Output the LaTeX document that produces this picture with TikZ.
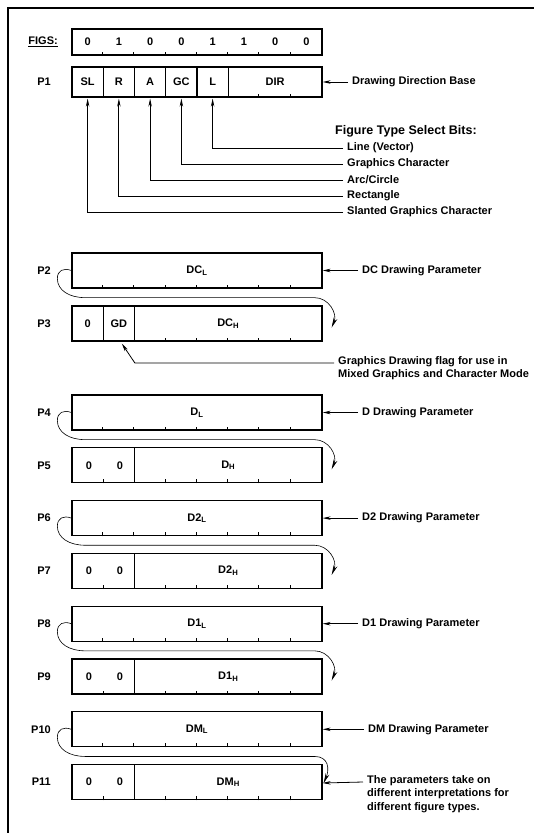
\documentclass[tikz,border=0pt]{standalone}
\usepackage{fontspec}
\setmainfont{Liberation Sans}
\usetikzlibrary{arrows.meta,calc}
\newcommand\highbox[3]{%
  \node[box, minimum width=250pt] (#1) at (197,#2) {#3};
  \foreach \k in {1,...,7} \draw[tick] ($(#1.south west)+(31.25*\k,0)$) -- ++(0,-4);}
\newcommand\lowbox[3]{%
  \node[box, minimum width=62.5pt] (#1z) at (103.25,#2) {};
  \node (#1za) at (89,#2) {0};
  \node (#1zb) at (120,#2) {0};
  \draw[tick] (#1z.south) -- ++(0,-4);
  \node[box, minimum width=187.5pt] (#1) at (228.25,#2) {#3};
  \foreach \k in {1,...,5} \draw[tick] ($(#1.south west)+(31.25*\k,0)$) -- ++(0,-4);}
\newcommand\loopconn[3]{%
  \draw[curvy] (#1.west) .. controls +(-8,-3) and +(0,-8) .. ($(#1.west)+(-14,8)$)
    .. controls +(0,12) and +(-16,0) .. ($(#1.south west)+(14,9)$)
    -- ($(#1.south east)+(-8,9)$)
    .. controls +(14,0) and +(6,-14) .. ($(#2.east)+#3$);}
\begin{document}
\begin{tikzpicture}[x=1pt,y=-1pt,
  every node/.style={font=\bfseries\fontsize{11}{13.5}\selectfont, inner sep=0pt},
  box/.style={draw, line width=1.3pt, minimum height=35pt, inner sep=0pt},
  tick/.style={line width=0.8pt},
  conn/.style={line width=0.8pt},
  arr/.style={conn, -{Stealth[length=8pt,width=3.5pt]}},
  curvy/.style={line width=0.6pt, -{Stealth[length=10pt,width=4pt]}},
  lbl/.style={anchor=west}]
\useasboundingbox (0,0) rectangle (534,833);
% frame
\draw[line width=2.4pt] (8,833) -- (8,8) -- (534,8);

% FIGS row
\node[box, minimum width=250pt, minimum height=26pt] (figs) at (197,42) {};
\node[anchor=east] (figslbl) at (58,42) {\underline{FIGS:}};
\foreach \d [count=\i] in {0,1,0,0,1,1,0,0}
  \node (fd\i) at (72+31.25*\i-15.625,42) {\d};
\foreach \i in {1,...,7} \draw[tick] ($(figs.south west)+(31.25*\i,0)$) -- ++(0,-4);

% P1 row
\node[anchor=east] (lp1) at (51,82) {P1};
\node[box, minimum width=31.25pt, minimum height=30pt] (sl) at (87.625,82) {SL};
\node[box, minimum width=31.25pt, minimum height=30pt] (r) at (118.875,82) {R};
\node[box, minimum width=31.25pt, minimum height=30pt] (a) at (150.125,82) {A};
\node[box, minimum width=31.25pt, minimum height=30pt] (gc) at (181.375,82) {GC};
\node[box, minimum width=31.25pt, minimum height=30pt] (l) at (212.625,82) {L};
\node[box, minimum width=93.75pt, minimum height=30pt] (dir) at (275.125,82) {DIR};
\foreach \k in {1,2} \draw[tick] ($(dir.south west)+(31.25*\k,0)$) -- ++(0,-4);
\node[lbl] (ddb) at (352,82) {Drawing Direction Base};
\draw[arr] ($(ddb.west)+(-4,0)$) -- (dir.east);

\node[lbl, font=\bfseries\fontsize{12.5}{14}\selectfont] (fts) at (335,131) {Figure Type Select Bits:};
\node[lbl] (tlv) at (347,148) {Line (Vector)};
\node[lbl] (tgc) at (347,164) {Graphics Character};
\node[lbl] (tarc) at (347,180) {Arc/Circle};
\node[lbl] (trect) at (347,196) {Rectangle};
\node[lbl] (tsl) at (347,212) {Slanted Graphics Character};
\draw[arr, shorten >=1pt] ($(tlv.west)+(-4,0)$) -| (l.south);
\draw[arr, shorten >=1pt] ($(tgc.west)+(-4,0)$) -| (gc.south);
\draw[arr, shorten >=1pt] ($(tarc.west)+(-4,0)$) -| (a.south);
\draw[arr, shorten >=1pt] ($(trect.west)+(-4,0)$) -| (r.south);
\draw[arr, shorten >=1pt] ($(tsl.west)+(-4,0)$) -| (sl.south);

% P2 / P3
\node[anchor=east] (lp2) at (51,270.5) {P2};
\highbox{p2}{270.5}{DC\textsubscript{L}}
\node[lbl] (tdc) at (362,270.5) {DC Drawing Parameter};
\draw[arr] ($(tdc.west)+(-4,0)$) -- (p2.east);

\node[anchor=east] (lp3) at (51,323.5) {P3};
\node[box, minimum width=31.25pt] (p3a) at (87.625,323.5) {0};
\node[box, minimum width=31.25pt] (p3gd) at (118.875,323.5) {GD};
\node[box, minimum width=187.5pt] (p3) at (228.25,323.5) {DC\textsubscript{H}};
\foreach \k in {1,...,5} \draw[tick] ($(p3.south west)+(31.25*\k,0)$) -- ++(0,-4);
\loopconn{p2}{p3}{(9,4)}
\node[lbl, align=left, anchor=north west] (tgd) at (338,356) {Graphics Drawing flag for use in\\Mixed Graphics and Character Mode};
\coordinate (gdk) at ($(p3gd.south)+(16,22)$);
\draw[arr] ($(tgd.north west)+(-4,7)$) -- (gdk |- {$(tgd.north west)+(0,7)$}) -- ($(p3gd.south)+(3,2)$);

% P4 / P5
\node[anchor=east] (lp4) at (51,412.5) {P4};
\highbox{p4}{412.5}{D\textsubscript{L}}
\node[lbl] (td) at (362,412.5) {D Drawing Parameter};
\draw[arr] ($(td.west)+(-4,0)$) -- (p4.east);
\node[anchor=east] (lp5) at (51,465.3) {P5};
\lowbox{p5}{465.3}{D\textsubscript{H}}
\loopconn{p4}{p5}{(9,4)}

% P6 / P7
\node[anchor=east] (lp6) at (51,518.1) {P6};
\highbox{p6}{518.1}{D2\textsubscript{L}}
\node[lbl] (td2) at (362,518.1) {D2 Drawing Parameter};
\draw[arr] ($(td2.west)+(-4,0)$) -- (p6.east);
\node[anchor=east] (lp7) at (51,570.9) {P7};
\lowbox{p7}{570.9}{D2\textsubscript{H}}
\loopconn{p6}{p7}{(9,4)}

% P8 / P9
\node[anchor=east] (lp8) at (51,623.7) {P8};
\highbox{p8}{623.7}{D1\textsubscript{L}}
\node[lbl] (td1) at (362,623.7) {D1 Drawing Parameter};
\draw[arr] ($(td1.west)+(-4,0)$) -- (p8.east);
\node[anchor=east] (lp9) at (51,676.5) {P9};
\lowbox{p9}{676.5}{D1\textsubscript{H}}
\loopconn{p8}{p9}{(9,4)}

% P10 / P11
\node[anchor=east] (lp10) at (51,729.3) {P10};
\highbox{p10}{729.3}{DM\textsubscript{L}}
\node[lbl] (tdm) at (368,729.3) {DM Drawing Parameter};
\draw[arr] ($(tdm.west)+(-4,0)$) -- (p10.east);
\node[anchor=east] (lp11) at (51,782.1) {P11};
\lowbox{p11}{782.1}{DM\textsubscript{H}}
\loopconn{p10}{p11}{(1,1)}
\node[lbl, align=left, anchor=north west] (tpar) at (367,775) {The parameters take on\\different interpretations for\\different figure types.};
\draw[arr] ($(tpar.north west)+(-4,7)$) -- ($(p11.east)+(0,0.9)$);
\end{tikzpicture}
\end{document}
